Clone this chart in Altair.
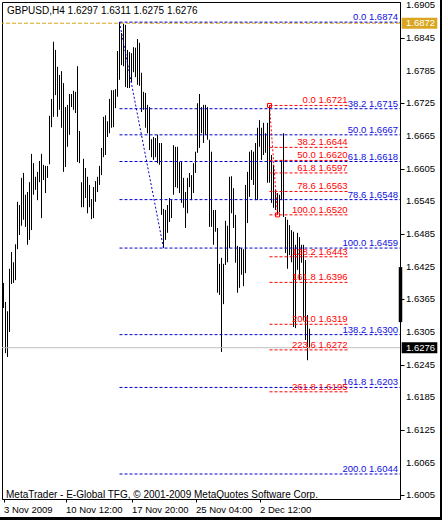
import altair as alt
import pandas as pd

# ---------------- data ----------------
highs = [1.6395, 1.6360, 1.6343, 1.6421, 1.6452, 1.6433, 1.6466, 1.6544, 1.6538, 1.6588,
         1.6597, 1.6557, 1.6562, 1.6580, 1.6632, 1.6615, 1.6590, 1.6599, 1.6619, 1.6632,
         1.6612, 1.6610, 1.6610, 1.6702, 1.6733, 1.6838, 1.6823, 1.6792, 1.6777, 1.6784,
         1.6762, 1.6718, 1.6722, 1.6742, 1.6742, 1.6748, 1.6746, 1.6793, 1.6674, 1.6580,
         1.6623, 1.6606, 1.6590, 1.6575, 1.6549, 1.6571, 1.6582, 1.6590, 1.6610, 1.6643,
         1.6700, 1.6703, 1.6692, 1.6733, 1.6749, 1.6749, 1.6751, 1.6821, 1.6874, 1.6854,
         1.6871, 1.6869, 1.6823, 1.6819, 1.6817, 1.6828, 1.6827, 1.6843, 1.6836, 1.6781,
         1.6746, 1.6744, 1.6722, 1.6718, 1.6659, 1.6663, 1.6661, 1.6667, 1.6652, 1.6652,
         1.6531, 1.6529, 1.6538, 1.6551, 1.6547, 1.6648, 1.6645, 1.6645, 1.6617, 1.6617,
         1.6588, 1.6562, 1.6588, 1.6597, 1.6593, 1.6615, 1.6636, 1.6725, 1.6742, 1.6718,
         1.6722, 1.6722, 1.6718, 1.6658, 1.6636, 1.6529, 1.6529, 1.6496, 1.6430, 1.6441,
         1.6430, 1.6509, 1.6500, 1.6590, 1.6591, 1.6569, 1.6520, 1.6463, 1.6461, 1.6459,
         1.6457, 1.6575, 1.6599, 1.6636, 1.6639, 1.6636, 1.6652, 1.6680, 1.6694, 1.6680,
         1.6689, 1.6670, 1.6689, 1.6721, 1.6630, 1.6612, 1.6566, 1.6560, 1.6557, 1.6621,
         1.6670, 1.6516, 1.6511, 1.6501, 1.6492, 1.6489, 1.6465, 1.6487, 1.6479, 1.6465,
         1.6465, 1.6437, 1.6336, 1.6311]
lows = [1.6349, 1.6266, 1.6259, 1.6305, 1.6393, 1.6395, 1.6400, 1.6457, 1.6483, 1.6500,
        1.6511, 1.6498, 1.6465, 1.6474, 1.6492, 1.6557, 1.6566, 1.6547, 1.6580, 1.6514,
        1.6584, 1.6560, 1.6588, 1.6613, 1.6681, 1.6700, 1.6740, 1.6700, 1.6713, 1.6680,
        1.6599, 1.6608, 1.6645, 1.6667, 1.6718, 1.6713, 1.6707, 1.6617, 1.6615, 1.6534,
        1.6534, 1.6551, 1.6523, 1.6534, 1.6512, 1.6514, 1.6544, 1.6562, 1.6575, 1.6593,
        1.6626, 1.6630, 1.6663, 1.6670, 1.6680, 1.6681, 1.6716, 1.6737, 1.6768, 1.6795,
        1.6793, 1.6755, 1.6753, 1.6753, 1.6764, 1.6782, 1.6773, 1.6759, 1.6757, 1.6709,
        1.6713, 1.6680, 1.6670, 1.6639, 1.6626, 1.6621, 1.6626, 1.6615, 1.6612, 1.6520,
        1.6459, 1.6474, 1.6487, 1.6507, 1.6514, 1.6557, 1.6571, 1.6569, 1.6560, 1.6542,
        1.6533, 1.6496, 1.6523, 1.6571, 1.6547, 1.6560, 1.6597, 1.6634, 1.6643, 1.6670,
        1.6652, 1.6667, 1.6658, 1.6498, 1.6498, 1.6465, 1.6489, 1.6377, 1.6373, 1.6268,
        1.6356, 1.6428, 1.6433, 1.6459, 1.6523, 1.6496, 1.6432, 1.6377, 1.6386, 1.6410,
        1.6389, 1.6413, 1.6505, 1.6553, 1.6584, 1.6575, 1.6547, 1.6547, 1.6645, 1.6621,
        1.6630, 1.6634, 1.6579, 1.6579, 1.6542, 1.6533, 1.6529, 1.6520, 1.6525, 1.6547,
        1.6516, 1.6450, 1.6421, 1.6446, 1.6433, 1.6314, 1.6312, 1.6419, 1.6400, 1.6432,
        1.6327, 1.6290, 1.6253, 1.6275]

x_tick_values = [0, 31, 64, 96, 128]
x_tick_labels = ["3 Nov 2009", "10 Nov 12:00", "17 Nov 20:00", "25 Nov 04:00", "2 Dec 12:00"]
y_ticks = [1.6005, 1.6065, 1.6125, 1.6185, 1.6245, 1.6305, 1.6365, 1.6425,
           1.6485, 1.6545, 1.6605, 1.6665, 1.6725, 1.6785, 1.6845, 1.6905]

blue_levels = [0.0, 38.2, 50.0, 61.8, 78.6, 100.0, 138.2, 161.8, 200.0]
blue_prices = [1.6874, 1.6715, 1.6667, 1.6618, 1.6548, 1.6459, 1.6300, 1.6203, 1.6044]
red_levels = [0.0, 38.2, 50.0, 61.8, 78.6, 100.0, 138.2, 161.8, 200.0, 223.6, 261.8]
red_prices = [1.6721, 1.6644, 1.6620, 1.6597, 1.6563, 1.6520, 1.6443, 1.6396, 1.6319, 1.6272, 1.6195]

blue_anchor = [58, 80]     # bar index of the swing high / swing low
red_anchor = [133, 137]
red_fib_end = 172.5        # bar index where the red levels stop

symbol = "GBPUSD,H4"
last_ohlc = [1.6297, 1.6311, 1.6275, 1.6276]
ask_price = 1.6872
bid_price = 1.6276
axis_marker = [1.6323, 1.6424]
footer = "MetaTrader - E-Global TFG, \u00a9 2001-2009 MetaQuotes Software Corp."

# ---------------- styling ----------------
FONT = "Liberation Sans"
FS = 9.5
BLUE = "#0000C8"
RED = "#FF0000"
GOLD = "#DAA520"
DASH = [3, 2]

X_DOMAIN = [-0.75, 198.25]
Y_DOMAIN = [1.59981, 1.69110]
xs = alt.Scale(domain=X_DOMAIN, nice=False, zero=False)
ys = alt.Scale(domain=Y_DOMAIN, nice=False, zero=False)

bars = pd.DataFrame({"i": list(range(len(highs))), "high": highs, "low": lows})

label_expr = " : ".join(
    f"datum.value == {v} ? '{t}'" for v, t in zip(x_tick_values, x_tick_labels)
) + " : ''"

bars_layer = alt.Chart(bars).mark_rule(color="black", strokeWidth=1).encode(
    x=alt.X("i:Q", scale=xs, title=None, axis=alt.Axis(
        values=x_tick_values, labelExpr=label_expr, labelAlign="left",
        labelBaseline="top", labelPadding=2, tickSize=3, tickColor="black",
        domainColor="black", labelColor="black", labelFont=FONT, labelFontSize=FS,
        grid=False, title=None, labelFlush=False, labelOverlap=False)),
    y=alt.Y("low:Q", scale=ys, title=None, axis=alt.Axis(
        orient="right", values=y_ticks, tickSize=4, labels=False,
        tickColor="black", domainColor="black", grid=False, title=None)),
    y2="high:Q",
)

ytick_df = pd.DataFrame({"v": y_ticks})
ytick_df["t"] = [f"{v:.4f}" for v in y_ticks]
ytick_text = alt.Chart(ytick_df).mark_text(
    align="left", baseline="middle", font=FONT, fontSize=FS, color="black"
).encode(x=alt.value(404), y=alt.Y("v:Q"), text="t:N")

blue_df = pd.DataFrame({"level": blue_levels, "price": blue_prices})
blue_df["label"] = [f"{l:.1f} {p:.4f}" for l, p in zip(blue_levels, blue_prices)]
red_df = pd.DataFrame({"level": red_levels, "price": red_prices})
red_df["label"] = [f"{l:.1f} {p:.4f}" for l, p in zip(red_levels, red_prices)]

blue_lines = alt.Chart(blue_df).mark_rule(color=BLUE, strokeDash=DASH, strokeWidth=1).encode(
    x=alt.XDatum(blue_anchor[0]),
    x2=alt.X2Datum(X_DOMAIN[1]),
    y=alt.Y("price:Q"),
)
blue_text = alt.Chart(blue_df).mark_text(
    align="right", baseline="alphabetic", dx=-2, dy=-2, font=FONT, fontSize=FS, color="#1010E0"
).encode(
    x=alt.XDatum(X_DOMAIN[1]),
    y=alt.Y("price:Q"),
    text="label:N",
)
red_lines = alt.Chart(red_df).mark_rule(color=RED, strokeDash=DASH, strokeWidth=1).encode(
    x=alt.XDatum(red_anchor[0]),
    x2=alt.X2Datum(red_fib_end),
    y=alt.Y("price:Q"),
)
red_text = alt.Chart(red_df).mark_text(
    align="right", baseline="alphabetic", dx=-1, dy=-2, font=FONT, fontSize=FS, color=RED
).encode(
    x=alt.XDatum(red_fib_end),
    y=alt.Y("price:Q"),
    text="label:N",
)

trend_blue = alt.Chart(pd.DataFrame({
    "x": [blue_anchor[0]], "x2": [blue_anchor[1]],
    "y": [highs[blue_anchor[0]]], "y2": [lows[blue_anchor[1]]]})
).mark_rule(color=BLUE, strokeDash=[2, 2], strokeWidth=1).encode(
    x=alt.X("x:Q"), x2="x2:Q", y=alt.Y("y:Q"), y2="y2:Q")
red_pts = pd.DataFrame({
    "x": [red_anchor[0]], "x2": [red_anchor[1]],
    "y": [highs[red_anchor[0]]], "y2": [lows[red_anchor[1]]]})
trend_red = alt.Chart(red_pts).mark_rule(color=RED, strokeDash=[2, 2], strokeWidth=1).encode(
    x=alt.X("x:Q"), x2="x2:Q", y=alt.Y("y:Q"), y2="y2:Q")
red_ends = alt.Chart(pd.DataFrame({
    "x": [red_anchor[0], red_anchor[1]],
    "y": [highs[red_anchor[0]], lows[red_anchor[1]]]})
).mark_point(shape="square", filled=False, size=16, stroke=RED, color=RED, strokeWidth=1,
             opacity=1).encode(x=alt.X("x:Q"), y=alt.Y("y:Q"))

ask_line = alt.Chart(pd.DataFrame({"p": [ask_price]})).mark_rule(
    color=GOLD, strokeDash=[4, 2], strokeWidth=1).encode(y=alt.Y("p:Q"))
bid_line = alt.Chart(pd.DataFrame({"p": [bid_price]})).mark_rule(
    color="#C0C0C0", strokeWidth=1).encode(y=alt.Y("p:Q"))

marker = alt.Chart(pd.DataFrame({"lo": [axis_marker[0]], "hi": [axis_marker[1]]})).mark_rule(
    color="black", strokeWidth=3.5).encode(
    x=alt.value(398.5), y=alt.Y("lo:Q"), y2="hi:Q")

box_df = pd.DataFrame({"p": [ask_price, bid_price], "bg": [GOLD, "black"]})
box_df["t"] = [f"{p:.4f}" for p in box_df["p"]]
boxes = alt.Chart(box_df).transform_calculate(
    lo="datum.p - 0.00101", hi="datum.p + 0.00101"
).mark_rect().encode(
    x=alt.value(399.7), x2=alt.value(435.3),
    y=alt.Y("lo:Q"), y2="hi:Q",
    color=alt.Color("bg:N", scale=None))
box_text = alt.Chart(box_df).mark_text(
    align="left", baseline="middle", font=FONT, fontSize=FS, color="white"
).encode(x=alt.value(404), y=alt.Y("p:Q"), text="t:N")

header_txt = symbol + "  " + " ".join(f"{v:.4f}" for v in last_ohlc)
header = alt.Chart(pd.DataFrame({"t": [header_txt]})).mark_text(
    align="left", baseline="middle", font=FONT, fontSize=10, color="black"
).encode(x=alt.value(5), y=alt.value(9), text="t:N")
foot = alt.Chart(pd.DataFrame({"t": [footer]})).mark_text(
    align="left", baseline="middle", font=FONT, fontSize=10, color="black"
).encode(x=alt.value(4), y=alt.value(492.5), text="t:N")

frame_r = alt.Chart(pd.DataFrame({"a": [0]})).mark_rule(color="black", strokeWidth=2).encode(
    x=alt.value(439), y=alt.value(-2), y2=alt.value(518))
frame_b = alt.Chart(pd.DataFrame({"a": [0]})).mark_rule(color="black", strokeWidth=3).encode(
    y=alt.value(516.5), x=alt.value(-2), x2=alt.value(440))

chart = alt.layer(
    bars_layer, ask_line, bid_line, blue_lines, red_lines, trend_blue, trend_red, red_ends,
    blue_text, red_text, ytick_text, marker, boxes, box_text, header, foot,
    frame_r, frame_b,
).properties(
    width=398, height=497,
    padding={"left": 2, "top": 2, "right": 42, "bottom": 21},
    autosize=alt.AutoSizeParams(type="none"),
    background="white",
).configure_view(
    stroke="black", strokeWidth=1
).configure_axis(
    labelOverlap=False, labelFlush=False, labelBound=False
)

chart.save("out.html", embed_options={"renderer": "svg", "actions": False})
